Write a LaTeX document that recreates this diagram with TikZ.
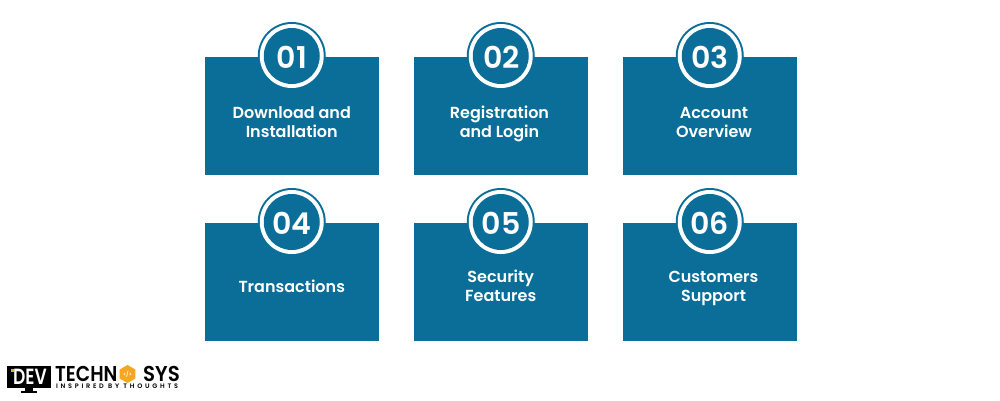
\documentclass[tikz,border=0pt]{standalone}
\usepackage{fontspec}
\usetikzlibrary{shapes.geometric}
\setmainfont{Poppins}
\newfontfamily\popsemi{Poppins SemiBold}
\newfontfamily\tagfont[LetterSpace=42]{Poppins SemiBold}
\definecolor{boxblue}{HTML}{0A6E99}
\definecolor{logoorange}{HTML}{F5A623}
\tikzset{
  panel/.style={fill=boxblue,draw=none,minimum width=173.5pt,minimum height=118pt,inner sep=0pt,outer sep=0pt},
  badgeouter/.style={circle,fill=boxblue,draw=none,minimum size=68pt,inner sep=0pt},
  badgering/.style={circle,fill=white,draw=none,minimum size=64pt,inner sep=0pt},
  badgeinner/.style={circle,fill=boxblue,draw=none,minimum size=56pt,inner sep=0pt},
  numeral/.style={text=white,font=\popsemi\fontsize{30}{30}\selectfont,inner sep=0pt},
  caption/.style={text=white,font=\popsemi\fontsize{16}{19}\selectfont,align=center,inner sep=0pt},
  logotext/.style={text=black,font=\popsemi\fontsize{21.5}{21.5}\selectfont,inner sep=0pt},
}
\newcommand{\cl}{\rule[-5pt]{0pt}{14pt}}
\begin{document}
\begin{tikzpicture}[x=1pt,y=-1pt]
\useasboundingbox (0,0) rectangle (1000,400);
\fill[white] (0,0) rectangle (1000,400);
\foreach \n/\x/\y/\nx/\ny/\tx/\ty/\num/\txt in {
 a/291.75/116/291.75/57/291.75/124.5/01/{\cl Download and\\\cl Installation},
 b/500.75/116/501.5/57/499.5/124.5/02/{\cl Registration\\\cl and Login},
 c/709.75/116/710/57/714/124.5/03/{\cl Account\\\cl Overview},
 d/291.75/282/292/223.3/291.75/289/04/{\cl Transactions},
 e/500.75/282/501/223.3/500.75/288.5/05/{\cl Security\\\cl Features},
 f/709.75/282/709.75/223.3/713.5/288.5/06/{\cl Customers\\\cl Support}}{
  \node[panel] (\n) at (\x,\y) {};
  \node[badgeouter] (\n o) at (\x,\y-60) {};
  \node[badgering] (\n r) at (\x,\y-60) {};
  \node[badgeinner] (\n i) at (\x,\y-60) {};
  \node[numeral] (\n n) at (\nx,\ny) {\num};
  \node[caption] (\n t) at (\tx,\ty) {\txt};
}
% logo
\fill[black] (7,366) rectangle (51,388);
\fill[black] (25,388) rectangle (33,391);
\fill[black] (21,391) rectangle (37,393);
\node[text=white,font=\popsemi\fontsize{22}{22}\selectfont,inner sep=0pt] (dev) at (30,376.8) {\scalebox{0.78}[1]{DEV}};
\fill[logoorange] (11,369) rectangle (14,372);
\node[logotext,anchor=west] (tech) at (55,373.5) {\scalebox{0.87}[1]{TECHN}};
\node[logotext,anchor=east] (sys) at (180,373.5) {\scalebox{0.92}[1]{SYS}};
\node[regular polygon,regular polygon sides=6,shape border rotate=30,fill=logoorange,minimum size=18pt,inner sep=0pt] (hex) at (127.5,374) {};
\node[text=white,font=\popsemi\fontsize{5.5}{5.5}\selectfont,inner sep=0pt] (hext) at (127.5,374) {</>};
\node[text=black,font=\tagfont\fontsize{6.5}{6.5}\selectfont,inner sep=0pt,anchor=west] (tag) at (56,386.5) {INSPIRED BY THOUGHTS};
\end{tikzpicture}
\end{document}
